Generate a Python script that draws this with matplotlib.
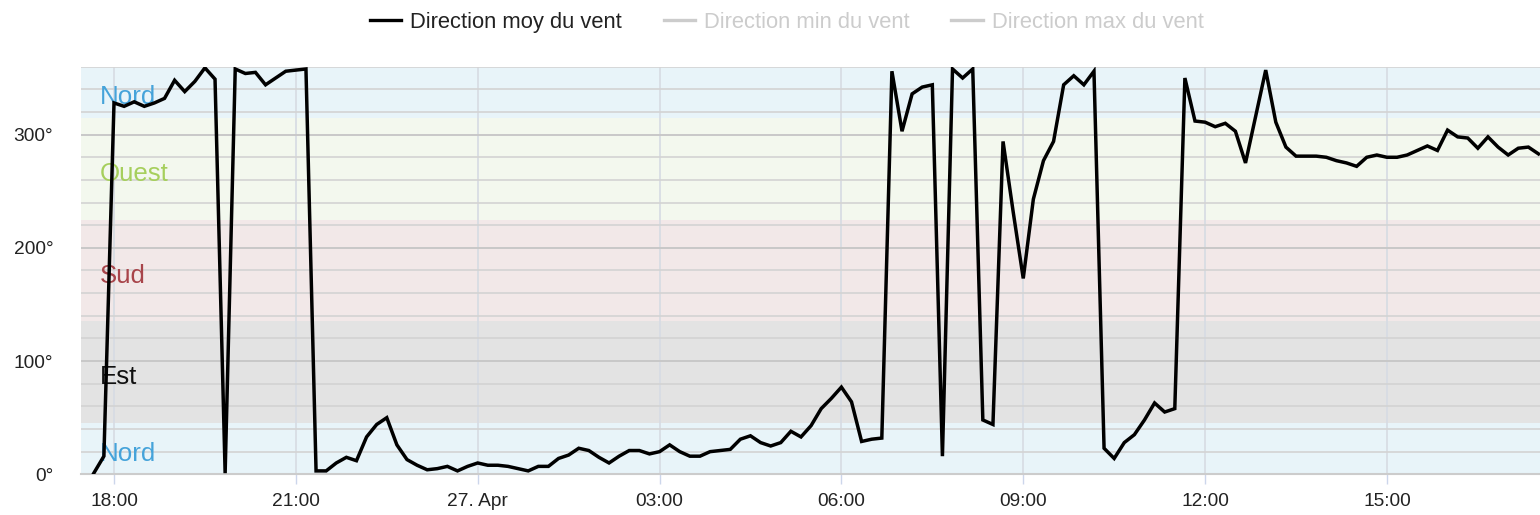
import matplotlib
matplotlib.use('Agg')
import matplotlib.pyplot as plt
import matplotlib.dates as mdates
import matplotlib.transforms as mtransforms
from matplotlib.lines import Line2D
from matplotlib.ticker import FuncFormatter, MultipleLocator
import pandas as pd

plt.rcParams['font.family'] = ['Liberation Sans', 'DejaVu Sans']

# ---------------- data ----------------
start_time = "2024-04-26 17:40"
sample_step = "10min"
direction_moy = [
    1, 16, 328, 325, 329, 325, 328, 332, 348, 338,
    347, 359, 349, 1, 358, 354, 355, 344, 350, 356,
    357, 358, 3, 3, 10, 15, 12, 33, 44, 50,
    26, 13, 8, 4, 5, 7, 3, 7, 10, 8,
    8, 7, 5, 3, 7, 7, 14, 17, 23, 21,
    15, 10, 16, 21, 21, 18, 20, 26, 20, 16,
    16, 20, 21, 22, 31, 34, 28, 25, 28, 38,
    33, 43, 58, 67, 77, 64, 29, 31, 32, 356,
    303, 336, 342, 344, 16, 358, 350, 358, 48, 44,
    294, 232, 173, 243, 277, 294, 344, 352, 344, 356,
    23, 14, 28, 35, 48, 63, 55, 58, 350, 312,
    311, 307, 310, 303, 275, 316, 357, 311, 289, 281,
    281, 281, 280, 277, 275, 272, 280, 282, 280, 280,
    282, 286, 290, 286, 304, 298, 297, 288, 298, 289,
    282, 288, 289, 283,
]
legend_labels = ["Direction moy du vent", "Direction min du vent", "Direction max du vent"]
band_names = ["Nord", "Est", "Sud", "Ouest", "Nord"]
band_edges = [0, 45, 135, 225, 315, 360]
band_fills = ["#e8f4f9", "#e3e3e3", "#f2e8e8", "#f3f8ee", "#e8f4f9"]
band_text_colors = ["#45a3da", "#111111", "#a8444a", "#a6cf5c", "#45a3da"]
y_major_ticks = [0, 100, 200, 300]

times = pd.date_range(start_time, periods=len(direction_moy), freq=sample_step)

# ---------------- figure ----------------
W, H = 1540, 515
fig = plt.figure(figsize=(W / 100, H / 100), dpi=100)
ax_left, ax_right, ax_top, ax_bottom = 81, 1540, 66.7, 474.3
ax = fig.add_axes([ax_left / W, 1 - ax_bottom / H, (ax_right - ax_left) / W, (ax_bottom - ax_top) / H])

# bands
for lo, hi, fc in zip(band_edges[:-1], band_edges[1:], band_fills):
    ax.axhspan(lo, hi, color=fc, lw=0, zorder=0)

trans = mtransforms.blended_transform_factory(ax.transAxes, ax.transData)
for lo, hi, name, tc in zip(band_edges[:-1], band_edges[1:], band_names, band_text_colors):
    ax.text(19 / (ax_right - ax_left), (lo + hi) / 2 - 4.5, name, transform=trans,
            color=tc, fontsize=18.6, va='center', ha='left', zorder=2)

# main line
ax.plot(times, direction_moy, color='black', lw=2.5, zorder=3, solid_joinstyle='miter')

# axes limits
ax.set_ylim(0, 360)
ax.set_xlim(pd.Timestamp("2024-04-26 17:27:20"), pd.Timestamp("2024-04-27 17:31:30"))

# y ticks & grid
ax.set_yticks(y_major_ticks)
ax.yaxis.set_major_formatter(FuncFormatter(lambda v, p: f"{int(v)}°"))
ax.yaxis.set_minor_locator(MultipleLocator(20))
ax.grid(axis='y', which='major', color='#c8c8c8', lw=1.4, zorder=1)
ax.grid(axis='y', which='minor', color='#d3d3d3', lw=1.2, zorder=1)
ax.tick_params(axis='y', which='both', length=0, pad=20, labelsize=13.8, labelcolor='#222222')

# x ticks & grid
ax.xaxis.set_major_locator(mdates.HourLocator(byhour=range(0, 24, 3)))

def fmt_x(v, pos):
    d = mdates.num2date(v)
    if d.hour == 0 and d.minute == 0:
        return d.strftime("%d. %b")
    return d.strftime("%H:%M")

ax.xaxis.set_major_formatter(FuncFormatter(fmt_x))
ax.grid(axis='x', which='major', color='#d6dbe3', lw=1.2, zorder=1)
ax.tick_params(axis='x', which='major', length=7.5, width=1, color='#ccd6eb', pad=6,
               labelsize=13.8, labelcolor='#222222')
ax.tick_params(axis='x', which='minor', length=0)
ax.set_axisbelow(True)

for s in ['top', 'left', 'right']:
    ax.spines[s].set_visible(False)
ax.spines['bottom'].set_color('#cccccc')
ax.spines['bottom'].set_linewidth(1.5)
ax.spines['bottom'].set_zorder(2)

# legend
handles = [
    Line2D([], [], color='black', lw=2.4),
    Line2D([], [], color='#cccccc', lw=2.4),
    Line2D([], [], color='#cccccc', lw=2.4),
]
leg = fig.legend(handles, legend_labels, loc='center', bbox_to_anchor=(786.5 / W, 1 - 22.5 / H),
                 ncol=3, frameon=False, fontsize=15.8, handlelength=1.42, handletextpad=0.41,
                 columnspacing=1.92, borderpad=0, borderaxespad=0)
for i, t in enumerate(leg.get_texts()):
    t.set_color('#222222' if i == 0 else '#cccccc')

fig.savefig("out.png", dpi=100)
